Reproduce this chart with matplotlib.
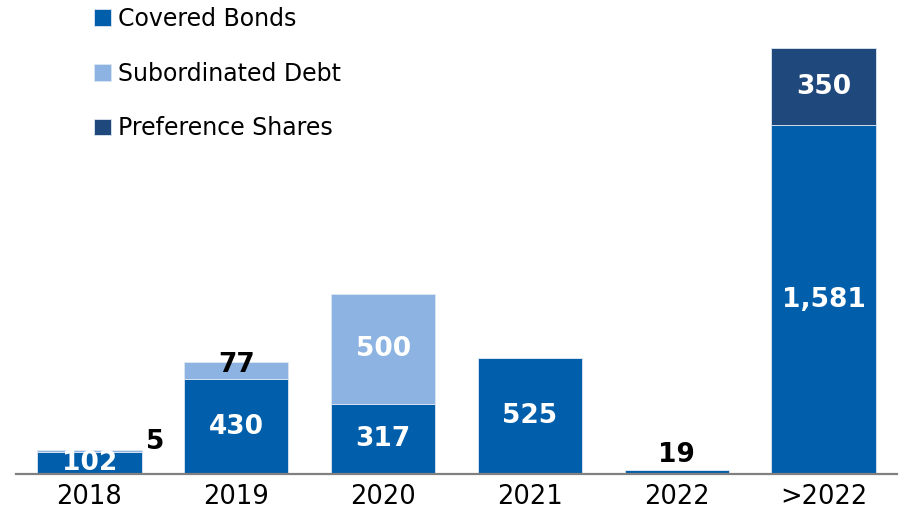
import matplotlib
matplotlib.use("Agg")
import matplotlib.pyplot as plt
import numpy as np

# maturity profile (EUR m)
years = ["2018", "2019", "2020", "2021", "2022", ">2022"]
covered_bonds = [102, 430, 317, 525, 19, 1581]
subordinated_debt = [5, 77, 500, 0, 0, 0]
preference_shares = [0, 0, 0, 0, 0, 350]

series = [
    ("Covered Bonds", covered_bonds, "#005EAA"),
    ("Subordinated Debt", subordinated_debt, "#8DB3E2"),
    ("Preference Shares", preference_shares, "#1F497D"),
]

fig = plt.figure(figsize=(8.99, 5.15), dpi=100)
ax = fig.add_axes([16 / 899, 41 / 515, 881 / 899, 474 / 515])

x = np.arange(len(years))
width = 0.71
bottom = np.zeros(len(years))
bars = []
for name, vals, color in series:
    vals = np.array(vals, dtype=float)
    b = ax.bar(x, vals, width, bottom=bottom, color=color, label=name,
               edgecolor="#DCE6F2", linewidth=0.6, zorder=2)
    bars.append(b)
    for i, v in enumerate(vals):
        if v <= 0:
            continue
        label = f"{int(v):,}"
        if v < 10:
            # too small: put it beside the bar
            ax.text(x[i] + width / 2 + 0.03, bottom[i] + v + 40, label,
                    ha="left", va="center", fontsize=19, fontweight="heavy",
                    color="black")
        elif v < 30:
            ax.text(x[i], bottom[i] + v + 8, label, ha="center", va="bottom",
                    fontsize=19, fontweight="heavy", color="black")
        elif v < 100:
            ax.text(x[i], bottom[i] + v / 2 + 25, label, ha="center",
                    va="center", fontsize=19, fontweight="heavy", color="black")
        else:
            ax.text(x[i], bottom[i] + v / 2, label, ha="center", va="center",
                    fontsize=19, fontweight="heavy", color="white", zorder=3)
    bottom += vals

ax.set_xlim(-0.5, 5.5)
ax.set_ylim(0, 2150)
ax.set_xticks(x)
ax.set_xticklabels(years, fontsize=18.5, color="black")
ax.tick_params(axis="x", length=0, pad=7)
ax.set_yticks([])
for s in ["top", "right", "left"]:
    ax.spines[s].set_visible(False)
ax.spines["bottom"].set_color("#808080")
ax.spines["bottom"].set_linewidth(1.6)
ax.spines["bottom"].set_zorder(4)

fig.legend(handles=bars, labels=[s[0] for s in series],
           loc="upper left", bbox_to_anchor=(94 / 899, 1 - 7 / 515),
           frameon=False, fontsize=17, handlelength=0.7, handleheight=0.7,
           handletextpad=0.3, labelspacing=1.3, borderpad=0, borderaxespad=0)

fig.savefig("out.png", dpi=100)
